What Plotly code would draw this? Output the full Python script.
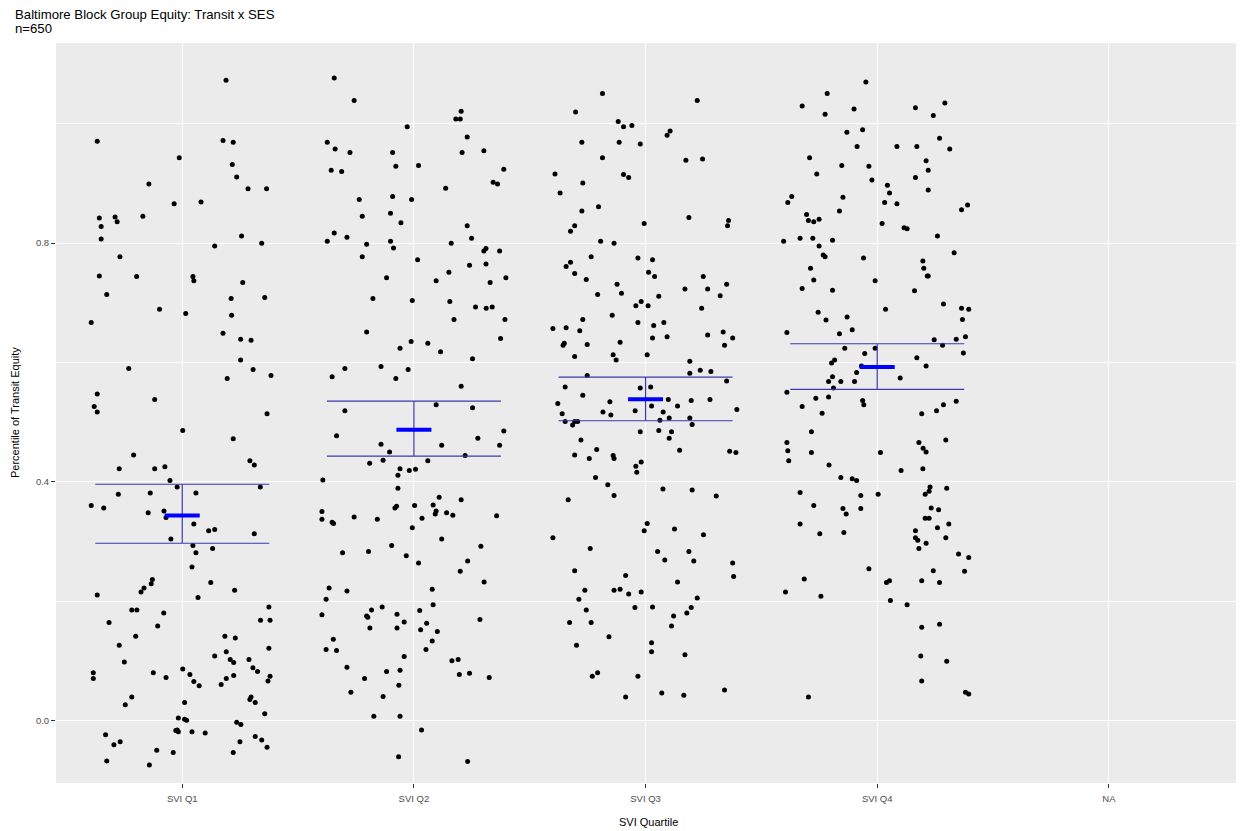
import plotly.graph_objects as go

categories = ["SVI Q1", "SVI Q2", "SVI Q3", "SVI Q4", "NA"]

q1_jitter = [0.189,-0.367,0.176,0.220,-0.013,0.216,0.235,-0.144,0.284,0.364,
-0.035,0.081,-0.358,-0.290,-0.281,-0.170,-0.350,-0.350,0.256,0.343,
0.140,-0.269,-0.358,-0.197,0.046,0.050,0.261,-0.326,0.211,0.356,
-0.098,0.015,0.213,-0.393,0.176,0.252,0.297,0.252,-0.231,0.306,
0.383,0.194,-0.367,-0.119,-0.380,-0.367,0.366,0.002,0.220,-0.210,
0.292,0.311,-0.272,-0.119,-0.075,-0.053,-0.022,0.337,-0.276,-0.138,
0.059,-0.393,-0.339,-0.147,-0.079,-0.070,0.050,0.114,0.140,0.311,
-0.049,0.046,0.131,0.059,0.042,-0.129,-0.134,-0.165,-0.178,0.123,
0.226,-0.367,0.068,-0.218,-0.196,-0.080,0.374,-0.316,0.338,0.379,
-0.106,-0.201,0.184,0.229,-0.272,0.374,0.190,0.140,-0.250,0.207,
0.222,0.288,0.305,0.325,-0.384,-0.384,-0.125,-0.070,0.002,0.033,
0.050,0.073,0.168,0.190,0.222,0.379,0.370,-0.218,-0.246,0.010,
0.297,0.292,0.315,0.356,-0.017,0.010,0.019,0.235,0.253,-0.028,
-0.022,-0.017,0.042,0.099,-0.331,-0.295,-0.268,0.315,0.343,0.249,
0.366,-0.110,-0.039,0.220,-0.326,-0.142]
q1_y = [1.073,0.971,0.972,0.969,0.943,0.932,0.911,0.899,0.891,0.891,
0.866,0.869,0.842,0.844,0.836,0.845,0.828,0.807,0.812,0.800,
0.795,0.777,0.745,0.744,0.744,0.737,0.734,0.714,0.707,0.709,
0.689,0.682,0.679,0.667,0.649,0.639,0.637,0.604,0.590,0.588,
0.578,0.573,0.547,0.538,0.526,0.517,0.514,0.486,0.472,0.445,
0.435,0.428,0.422,0.422,0.425,0.402,0.391,0.391,0.379,0.381,
0.381,0.360,0.356,0.348,0.351,0.340,0.329,0.318,0.320,0.313,
0.304,0.293,0.288,0.281,0.257,0.236,0.229,0.222,0.215,0.231,
0.218,0.210,0.206,0.185,0.185,0.180,0.190,0.164,0.168,0.168,
0.158,0.141,0.141,0.138,0.126,0.121,0.115,0.108,0.098,0.102,
0.097,0.102,0.088,0.082,0.080,0.070,0.080,0.072,0.086,0.077,
0.065,0.058,0.060,0.070,0.075,0.074,0.066,0.039,0.026,0.030,
0.039,0.035,0.030,0.011,0.004,0.002,0.000,-0.003,-0.007,-0.017,
-0.016,-0.019,-0.019,-0.021,-0.024,-0.041,-0.036,-0.027,-0.033,-0.036,
-0.045,-0.050,-0.054,-0.054,-0.068,-0.075]

q2_jitter = [-0.344,-0.258,0.204,0.181,0.200,-0.029,-0.374,-0.340,-0.276,-0.092,
0.230,0.208,0.302,-0.078,0.020,-0.357,-0.312,0.388,0.342,0.361,
0.137,-0.236,-0.092,-0.010,-0.223,-0.101,-0.056,0.230,-0.344,-0.289,
-0.374,-0.204,-0.101,-0.088,0.161,0.249,0.302,0.311,0.370,-0.223,
0.016,0.240,0.311,0.151,-0.118,0.096,0.397,0.329,-0.177,-0.007,
0.155,0.266,0.312,0.338,0.173,0.393,-0.204,0.374,-0.060,-0.012,
0.060,0.115,0.253,-0.298,-0.142,-0.025,-0.353,-0.078,0.204,0.096,
0.253,-0.298,-0.334,0.388,0.276,-0.142,0.120,0.370,-0.105,0.221,
-0.191,-0.133,0.060,-0.060,-0.020,0.007,-0.069,-0.393,-0.069,0.109,
0.204,-0.082,-0.075,0.003,0.083,0.096,0.092,0.141,0.168,-0.397,
-0.397,-0.353,-0.347,-0.258,-0.158,0.035,0.357,-0.007,0.120,-0.096,
0.289,-0.308,-0.196,-0.033,0.020,0.232,0.200,0.303,-0.366,-0.289,
0.079,-0.379,-0.183,-0.137,0.083,0.025,-0.397,-0.204,-0.199,-0.073,
-0.042,0.055,0.285,-0.190,-0.073,0.029,0.101,0.079,-0.348,-0.379,
-0.334,0.052,-0.042,-0.289,0.164,0.191,-0.118,-0.060,-0.213,0.196,
0.240,0.325,-0.065,-0.272,-0.133,-0.173,-0.060,0.033,-0.066,0.232]
q2_y = [1.077,1.039,1.021,1.008,1.008,0.995,0.969,0.958,0.952,0.952,
0.978,0.952,0.955,0.929,0.930,0.922,0.920,0.924,0.902,0.899,
0.892,0.873,0.878,0.873,0.845,0.850,0.834,0.829,0.817,0.810,
0.803,0.798,0.803,0.792,0.800,0.808,0.787,0.791,0.787,0.777,
0.772,0.763,0.765,0.751,0.742,0.737,0.742,0.734,0.707,0.704,
0.702,0.693,0.691,0.693,0.672,0.672,0.651,0.640,0.624,0.635,
0.632,0.618,0.606,0.590,0.593,0.588,0.576,0.573,0.560,0.529,
0.524,0.519,0.477,0.485,0.473,0.463,0.461,0.461,0.450,0.444,
0.431,0.436,0.435,0.422,0.419,0.421,0.411,0.403,0.389,0.374,
0.370,0.356,0.359,0.360,0.361,0.351,0.346,0.348,0.344,0.350,
0.337,0.332,0.330,0.341,0.337,0.339,0.343,0.323,0.304,0.293,
0.292,0.281,0.283,0.276,0.264,0.267,0.250,0.232,0.222,0.217,
0.220,0.203,0.185,0.190,0.194,0.184,0.177,0.175,0.173,0.178,
0.165,0.163,0.169,0.155,0.155,0.152,0.149,0.133,0.136,0.119,
0.117,0.119,0.107,0.089,0.100,0.102,0.082,0.084,0.070,0.077,
0.079,0.072,0.059,0.047,0.040,0.007,0.007,-0.016,-0.061,-0.069]

q3_jitter = [-0.186,0.223,-0.302,-0.118,-0.095,-0.059,0.106,0.093,-0.275,-0.114,
-0.023,-0.186,0.174,0.246,-0.391,-0.095,-0.073,-0.271,-0.369,-0.203,
-0.275,0.187,-0.006,0.358,0.354,-0.306,-0.324,-0.194,-0.136,-0.235,
-0.324,-0.343,-0.306,-0.033,0.030,0.013,0.039,-0.256,-0.123,0.249,
0.350,0.170,0.268,-0.207,-0.104,0.057,0.322,-0.019,-0.042,0.011,
0.242,-0.144,-0.271,-0.400,-0.343,-0.284,-0.033,0.035,0.079,0.030,
0.093,0.268,0.335,0.376,0.341,-0.110,-0.252,-0.356,-0.351,-0.306,
-0.140,-0.127,0.007,0.191,0.236,0.282,0.191,-0.252,0.350,-0.347,
-0.023,0.022,-0.271,-0.379,-0.154,0.098,0.197,0.278,0.026,0.138,
-0.360,-0.184,-0.150,-0.045,0.076,0.394,-0.347,-0.306,-0.293,-0.315,
0.062,0.102,0.191,0.201,-0.023,0.057,0.112,0.102,-0.279,-0.211,
0.147,-0.306,-0.243,-0.140,-0.136,0.363,0.390,-0.019,-0.042,-0.038,
-0.216,-0.163,-0.136,0.075,0.201,0.305,-0.334,0.007,-0.006,0.125,
0.250,-0.400,-0.239,0.052,0.187,0.083,0.208,0.376,0.380,-0.306,
-0.086,0.138,-0.262,-0.136,-0.110,-0.073,-0.019,-0.288,0.223,0.030,
-0.046,0.197,-0.256,0.178,0.121,-0.328,-0.235,0.112,-0.158,-0.298,
0.026,0.026,0.170,-0.207,-0.230,-0.033,-0.086,0.070,0.165,0.341]
q3_y = [1.051,1.039,1.020,1.004,0.995,0.997,0.988,0.981,0.969,0.969,
0.966,0.943,0.939,0.941,0.916,0.915,0.910,0.901,0.884,0.861,
0.854,0.843,0.833,0.838,0.829,0.829,0.820,0.803,0.800,0.777,
0.768,0.761,0.749,0.775,0.772,0.751,0.744,0.739,0.731,0.744,
0.731,0.723,0.723,0.714,0.716,0.711,0.712,0.702,0.695,0.695,
0.691,0.679,0.672,0.657,0.658,0.653,0.667,0.662,0.667,0.641,
0.643,0.646,0.651,0.641,0.629,0.634,0.630,0.629,0.632,0.610,
0.613,0.604,0.613,0.602,0.587,0.585,0.582,0.578,0.569,0.559,
0.557,0.559,0.545,0.531,0.534,0.538,0.536,0.538,0.527,0.527,
0.514,0.517,0.512,0.519,0.517,0.521,0.501,0.501,0.501,0.495,
0.503,0.507,0.507,0.496,0.484,0.486,0.484,0.473,0.470,0.454,
0.453,0.445,0.439,0.444,0.439,0.451,0.449,0.433,0.426,0.416,
0.407,0.395,0.377,0.388,0.386,0.376,0.370,0.330,0.318,0.321,
0.311,0.306,0.288,0.283,0.283,0.269,0.267,0.264,0.241,0.251,
0.243,0.232,0.218,0.218,0.220,0.212,0.215,0.203,0.205,0.190,
0.189,0.189,0.185,0.180,0.175,0.164,0.164,0.158,0.140,0.126,
0.130,0.115,0.110,0.080,0.074,0.074,0.039,0.046,0.042,0.051]

q4_jitter = [-0.049,-0.216,-0.324,-0.225,-0.100,0.292,0.165,0.242,-0.063,-0.131,
-0.087,0.085,0.171,0.269,0.313,-0.292,-0.153,-0.036,0.211,0.220,
-0.261,-0.023,0.165,0.044,0.220,-0.369,-0.386,-0.148,0.053,0.032,
0.085,0.390,0.364,-0.305,-0.163,-0.297,-0.274,-0.251,0.021,0.116,
0.129,0.260,-0.404,-0.333,-0.278,-0.193,-0.251,-0.233,-0.225,-0.059,
0.332,0.197,0.201,0.216,0.220,-0.288,-0.274,-0.009,-0.324,-0.193,
0.161,0.286,0.364,0.395,0.036,-0.255,-0.130,-0.221,0.368,-0.390,
-0.163,-0.108,0.246,0.282,0.341,0.381,-0.140,-0.054,-0.009,0.372,
0.171,-0.197,-0.184,-0.068,0.211,-0.089,-0.193,0.099,-0.210,-0.157,
-0.098,-0.189,-0.390,-0.265,-0.210,-0.063,-0.058,-0.324,0.341,0.286,
0.256,0.192,-0.238,-0.284,0.296,-0.390,0.180,-0.386,-0.284,0.014,
0.198,0.211,-0.382,-0.208,0.197,0.103,-0.157,-0.108,-0.089,-0.333,
-0.071,0.004,0.228,0.224,0.207,0.300,-0.274,-0.148,-0.134,-0.071,
0.233,0.265,0.207,0.224,0.309,0.260,-0.333,-0.248,-0.144,0.165,
0.165,0.175,0.296,0.211,0.180,0.351,0.395,0.242,0.377,-0.036,
-0.315,-0.396,-0.243,0.040,0.053,0.192,0.269,0.057,0.129,0.192,
0.269,0.188,0.300,0.192,-0.297,0.381,0.395]
q4_y = [1.070,1.051,1.030,1.016,1.025,1.035,1.027,1.014,0.990,0.986,
0.962,0.962,0.962,0.976,0.958,0.943,0.930,0.929,0.938,0.922,
0.916,0.906,0.910,0.897,0.889,0.878,0.868,0.877,0.884,0.868,
0.866,0.864,0.856,0.848,0.854,0.838,0.836,0.840,0.833,0.826,
0.824,0.812,0.803,0.808,0.808,0.805,0.795,0.780,0.777,0.775,
0.784,0.770,0.758,0.745,0.745,0.758,0.738,0.737,0.724,0.721,
0.720,0.698,0.691,0.689,0.689,0.684,0.676,0.671,0.672,0.650,
0.648,0.655,0.638,0.629,0.639,0.643,0.624,0.615,0.624,0.616,
0.608,0.599,0.604,0.594,0.594,0.583,0.576,0.574,0.568,0.568,
0.568,0.557,0.550,0.540,0.542,0.536,0.529,0.526,0.535,0.529,
0.519,0.514,0.515,0.484,0.470,0.466,0.466,0.452,0.449,0.449,
0.456,0.450,0.435,0.428,0.422,0.419,0.407,0.405,0.402,0.382,
0.377,0.379,0.391,0.384,0.379,0.389,0.360,0.355,0.346,0.355,
0.356,0.353,0.339,0.339,0.329,0.323,0.329,0.313,0.315,0.318,
0.306,0.302,0.306,0.297,0.288,0.279,0.273,0.251,0.250,0.254,
0.237,0.215,0.208,0.231,0.234,0.234,0.231,0.201,0.194,0.156,
0.161,0.108,0.099,0.066,0.039,0.047,0.044]

group_means = [0.3436, 0.4872, 0.5381, 0.5923]
ci_low = [0.2969, 0.4431, 0.5023, 0.5549]
ci_high = [0.3958, 0.5353, 0.5755, 0.6313]

y_ticks = [0.0, 0.4, 0.8]
y_tick_labels = ["0.0", "0.4", "0.8"]

FONT = "Liberation Sans, Arial, sans-serif"

fig = go.Figure()

groups = [(q1_jitter, q1_y), (q2_jitter, q2_y), (q3_jitter, q3_y), (q4_jitter, q4_y)]
for i, (jx, yy) in enumerate(groups):
    pos = i + 1
    fig.add_trace(go.Scatter(
        x=[pos + j for j in jx], y=yy, mode="markers",
        marker=dict(color="black", size=5, line=dict(width=0)),
        showlegend=False, hoverinfo="skip"))

positions = [1, 2, 3, 4]
fig.add_trace(go.Scatter(
    x=positions, y=group_means, mode="markers",
    marker=dict(color="rgba(0,0,0,0)", size=1),
    error_y=dict(type="data", symmetric=False,
                 array=[h - m for h, m in zip(ci_high, group_means)],
                 arrayminus=[m - l for m, l in zip(group_means, ci_low)],
                 width=87, thickness=1.2, color="#3b3bb0"),
    showlegend=False, hoverinfo="skip"))

fig.add_trace(go.Scatter(
    x=positions, y=group_means, mode="markers",
    marker=dict(symbol="line-ew", size=25, color="#0000ff",
                line=dict(width=4, color="#0000ff")),
    showlegend=False, hoverinfo="skip"))

fig.update_layout(
    width=1236, height=823, autosize=False,
    margin=dict(l=48, r=4, t=35, b=48),
    paper_bgcolor="white", plot_bgcolor="#EBEBEB",
    font=dict(family=FONT, color="black"),
    xaxis=dict(range=[0.455, 5.566], tickvals=[1, 2, 3, 4, 5], ticktext=categories,
               showgrid=True, gridcolor="white", gridwidth=1.1, zeroline=False,
               ticks="outside", ticklen=4, tickcolor="#333333", tickwidth=1,
               tickfont=dict(size=9.5, color="#4d4d4d", family=FONT),
               showline=False, ticklabelstandoff=3),
    yaxis=dict(range=[-0.105, 1.1355], tickvals=y_ticks, ticktext=y_tick_labels,
               showgrid=True, gridcolor="white", gridwidth=1.1, zeroline=False,
               ticks="outside", ticklen=4, tickcolor="#333333", tickwidth=1,
               tickfont=dict(size=9.5, color="#4d4d4d", family=FONT),
               showline=False,
               minor=dict(tickvals=[0.2, 0.6, 1.0], showgrid=True,
                          gridcolor="white", gridwidth=0.5, ticks="")),
    annotations=[
        dict(text="Baltimore Block Group Equity: Transit x SES", xref="paper", yref="paper",
             x=-0.0363, y=1.0385, xanchor="left", yanchor="middle", showarrow=False,
             font=dict(size=13.2, color="black", family=FONT)),
        dict(text="n=650", xref="paper", yref="paper",
             x=-0.0363, y=1.0202, xanchor="left", yanchor="middle", showarrow=False,
             font=dict(size=13.2, color="black", family=FONT)),
        dict(text="SVI Quartile", xref="paper", yref="paper",
             x=0.5, y=-0.0527, xanchor="center", yanchor="middle", showarrow=False,
             font=dict(size=11, color="black", family=FONT)),
        dict(text="Percentile of Transit Equity", xref="paper", yref="paper",
             x=-0.0346, y=0.5, xanchor="center", yanchor="middle", showarrow=False,
             textangle=-90, font=dict(size=11, color="black", family=FONT)),
    ],
)

fig.write_html("out.html")
